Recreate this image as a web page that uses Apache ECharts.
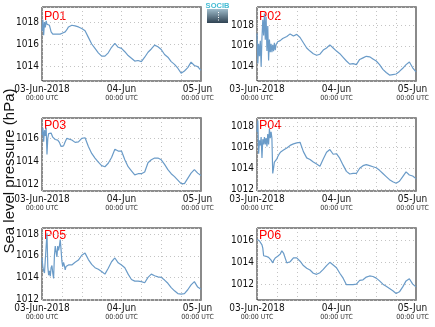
<!DOCTYPE html>
<html><head><meta charset="utf-8">
<script src="https://cdn.jsdelivr.net/npm/echarts@6/dist/echarts.min.js"></script>
<style>html,body{margin:0;padding:0;background:#fff}#c{width:435px;height:327px}</style>
</head><body><div id="c"></div>
<script>
// hours since 03-Jun-2018 00:00 UTC
const hours = [0,0.25,0.5,0.75,1,1.25,1.5,1.75,2,2.25,2.5,2.75,3,3.25,3.5,3.75,4,4.25,4.5,4.75,5,5.25,5.5,5.75,6,6.25,6.5,6.75,7,7.25,7.5,7.75,8,
  9,10,11,12,13,14,15,16,17,18,19,20,21,22,23,24,25,26,27,28,29,30,31,32,33,34,35,36,37,38,39,40,41,42,43,44,45,46,47,48];

const stations = ['P01','P02','P03','P04','P05','P06'];

const p01 = [1017.2,1018.2,1016.8,1018.0,1017.5,1018.1,1017.8,1017.9,1017.8,1017.7,1017.4,1017.1,1016.95,1016.9,1016.95,1017.0,1016.9,1016.85,1016.95,1016.9,1016.95,1017.0,1016.9,1016.95,1016.95,1017.0,1017.0,1017.05,1017.1,1017.15,1017.3,1017.45,1017.55,
  1017.7,1017.65,1017.55,1017.4,1017.2,1016.6,1016.0,1015.6,1015.2,1014.9,1014.9,1015.2,1015.7,1016.05,1015.7,1015.6,1015.3,1014.95,1014.7,1014.45,1014.5,1014.4,1014.8,1015.25,1015.55,1015.9,1015.75,1015.5,1015.05,1014.8,1014.4,1014.15,1013.8,1013.35,1013.55,1013.85,1014.35,1014.05,1013.95,1013.6];
const p02 = [1017.2,1014.3,1016.2,1015.0,1016.5,1014.0,1016.8,1018.5,1017.0,1019.1,1016.6,1018.8,1015.5,1017.9,1014.6,1016.6,1015.4,1016.2,1015.4,1016.1,1015.5,1016.3,1015.6,1016.1,1016.2,1016.4,1016.4,1016.5,1016.5,1016.6,1016.6,1016.7,1016.8,
  1016.9,1017.15,1016.95,1017.1,1016.8,1016.3,1015.8,1015.5,1015.25,1015.1,1015.2,1015.6,1015.8,1016.1,1015.8,1015.5,1015.25,1014.9,1014.55,1014.25,1014.3,1014.2,1014.7,1014.85,1015.0,1014.95,1014.75,1014.55,1014.2,1013.75,1013.45,1013.2,1013.25,1013.3,1013.55,1013.85,1014.2,1014.45,1013.9,1013.5];
const p03 = [1016.3,1016.9,1015.7,1016.7,1016.2,1016.9,1014.6,1016.0,1016.4,1016.5,1016.55,1016.45,1016.3,1016.1,1016.0,1015.95,1015.9,1015.9,1015.85,1015.85,1015.8,1015.65,1015.5,1015.3,1015.2,1015.25,1015.35,1015.5,1015.7,1015.85,1016.0,1016.05,1016.05,
  1015.85,1015.65,1015.7,1016.0,1016.05,1015.3,1014.7,1014.3,1013.95,1013.65,1013.55,1013.85,1014.35,1015.05,1014.9,1014.9,1014.15,1013.55,1013.2,1012.85,1012.95,1012.95,1013.1,1013.9,1014.15,1014.3,1014.3,1014.15,1013.75,1013.3,1012.95,1012.7,1012.4,1012.1,1012.1,1012.55,1013.0,1013.3,1013.0,1012.8];
const p04 = [1017.5,1018.6,1015.4,1016.7,1016.2,1017.0,1015.0,1016.8,1016.3,1017.0,1016.3,1016.9,1016.1,1017.3,1016.3,1017.8,1016.9,1017.5,1016.9,1013.5,1014.0,1014.6,1014.7,1014.65,1014.9,1015.1,1015.25,1015.4,1015.55,1015.6,1015.6,1015.7,1015.75,
  1015.95,1016.2,1016.35,1016.45,1016.5,1015.6,1015.0,1014.85,1014.6,1014.4,1014.2,1014.9,1015.55,1015.8,1015.35,1015.4,1014.95,1014.3,1013.7,1013.45,1013.5,1013.5,1014.0,1014.25,1014.35,1014.25,1014.15,1014.05,1013.8,1013.5,1013.2,1012.9,1012.7,1012.55,1012.75,1013.2,1013.65,1013.35,1013.25,1013.0];
const p05 = [1015.8,1015.0,1014.6,1014.4,1014.3,1014.5,1018.1,1015.0,1014.2,1014.6,1014.1,1014.9,1015.1,1014.4,1013.9,1016.0,1016.9,1017.0,1015.9,1016.9,1016.5,1016.9,1017.5,1016.6,1015.5,1015.0,1015.4,1015.1,1014.7,1015.0,1014.95,1015.1,1015.15,
  1015.15,1015.4,1015.6,1016.05,1016.25,1015.65,1015.2,1014.9,1014.75,1014.55,1014.3,1014.85,1015.45,1015.8,1015.35,1015.15,1014.9,1014.3,1013.8,1013.65,1013.65,1013.6,1013.5,1014.0,1014.3,1014.15,1014.05,1014.0,1013.75,1013.45,1013.05,1012.75,1012.5,1012.45,1012.5,1012.85,1013.3,1013.6,1013.1,1012.9];
const p06 = [1016.1,1016.0,1016.05,1015.95,1016.0,1015.9,1015.6,1015.3,1014.6,1014.75,1014.6,1014.55,1014.5,1014.5,1014.45,1014.4,1014.3,1014.2,1014.1,1013.95,1014.15,1014.3,1014.4,1014.45,1014.5,1014.55,1014.6,1014.65,1014.75,1014.9,1015.05,1014.95,1014.85,
  1013.95,1014.05,1014.4,1014.4,1014.1,1013.7,1013.45,1013.3,1013.0,1012.9,1013.05,1013.35,1013.7,1014.0,1013.75,1013.5,1013.0,1012.55,1011.95,1011.95,1011.95,1012.0,1012.35,1012.4,1012.65,1012.75,1012.7,1012.55,1012.3,1012.0,1011.8,1011.6,1011.4,1011.15,1011.3,1011.75,1012.3,1012.5,1012.0,1011.75];

const seriesValues = [p01, p02, p03, p04, p05, p06];
const yMin = [1012.64, 1012.63, 1011.46, 1011.81, 1011.9, 1010.55];
const yMax = [1019.36, 1019.73, 1017.75, 1018.84, 1018.58, 1017.14];
const xTickHours = [0, 24, 48];
const xTickDates = ['03-Jun-2018', '04-Jun', '05-Jun'];
const xTickTimes = ['00:00 UTC', '00:00 UTC', '00:00 UTC'];
const yTitle = 'Sea level pressure (hPa)';

const FONT = '"Liberation Sans", Arial, sans-serif';
const TICKFONT = '"Liberation Sans Narrow", "DejaVu Sans Condensed", "Arial Narrow", "Liberation Sans", sans-serif';
const gridBoxes = [
  {left:42, top:7, width:159, height:74},
  {left:257, top:7, width:159, height:74},
  {left:42, top:118, width:159, height:73},
  {left:257, top:118, width:159, height:73},
  {left:42, top:228, width:159, height:72},
  {left:257, top:228, width:159, height:72}
];
const labelCapTop = [11.7, 11.7, 121, 121, 230.7, 230.7];

const chart = echarts.init(document.getElementById('c'), null, {renderer: 'canvas'});
const grid = [], xAxis = [], yAxis = [], series = [], graphic = [];

gridBoxes.forEach((g, i) => {
  grid.push(Object.assign({show: true, borderColor: '#1a1a1a', borderWidth: 1, backgroundColor: 'transparent', containLabel: false, outerBoundsMode: 'none'}, g));
  xAxis.push({
    type: 'value', gridIndex: i, min: 0, max: 48, interval: 6,
    axisLine: {show: false}, axisTick: {show: false},
    splitLine: {show: true, lineStyle: {color: '#c4c4c4', type: [1, 3], width: 1}},
    axisLabel: {
      show: true, interval: 0, margin: 3, showMinLabel: true, showMaxLabel: true,
      alignMinLabel: 'center', alignMaxLabel: 'center', hideOverlap: false,
      fontFamily: TICKFONT,
      formatter: v => {
        const k = xTickHours.indexOf(v);
        if (k < 0) return '';
        const s = v === 48 ? '2' : '';
        return '{a' + s + '|' + xTickDates[k] + '}\n{b' + s + '|' + xTickTimes[k] + '}';
      },
      rich: {
        a: {fontSize: 10, lineHeight: 10, color: '#111', fontFamily: TICKFONT},
        b: {fontSize: 7, lineHeight: 9, color: '#333', fontFamily: TICKFONT},
        a2: {fontSize: 10, lineHeight: 10, color: '#111', fontFamily: TICKFONT, padding: [0, 7, 0, 0]},
        b2: {fontSize: 7, lineHeight: 9, color: '#333', fontFamily: TICKFONT, padding: [0, 7, 0, 0]}
      }
    }
  });
  yAxis.push({
    type: 'value', gridIndex: i, min: yMin[i], max: yMax[i], splitNumber: 3,
    axisLine: {show: false}, axisTick: {show: false},
    splitLine: {show: true, lineStyle: {color: '#c4c4c4', type: [1, 3], width: 1}},
    axisLabel: {
      margin: 3, fontSize: 10, color: '#111', fontFamily: TICKFONT,
      formatter: v => {
        const r = Math.round(v);
        return (Math.abs(v - r) < 1e-6 && r % 2 === 0) ? String(r) : '';
      }
    }
  });
  yAxis.push({
    type: 'value', gridIndex: i, position: 'right', min: yMin[i], max: yMax[i],
    axisLine: {show: true, lineStyle: {color: '#8a8a8a', width: 2}},
    axisTick: {show: false}, axisLabel: {show: false}, splitLine: {show: false}
  });
  series.push({
    type: 'line', xAxisIndex: i, yAxisIndex: 2 * i,
    data: seriesValues[i].map((v, j) => [hours[j], v]),
    showSymbol: false, symbol: 'none',
    lineStyle: {color: '#6a9bc8', width: 1.2},
    animation: false
  });
  graphic.push({
    type: 'text', left: g.left + 2, top: labelCapTop[i] - 1.8,
    style: {text: stations[i], fill: '#ff0000', fontSize: 12.5, fontFamily: FONT}
  });
});

graphic.push({
  type: 'text', x: 10, y: 171, rotation: Math.PI / 2,
  style: {text: yTitle, fill: '#111', fontSize: 15, fontFamily: FONT, textAlign: 'center', textVerticalAlign: 'middle'}
});
// logo
graphic.push({
  type: 'rect', shape: {x: 207, y: 9, width: 21, height: 14},
  style: {fill: new echarts.graphic.LinearGradient(0, 0, 0, 1, [{offset: 0, color: '#9fbccb'}, {offset: 1, color: '#2f4252'}])}
});
graphic.push({
  type: 'line', shape: {x1: 218.5, y1: 12, x2: 218.5, y2: 22},
  style: {stroke: '#ffffff', lineWidth: 1, lineDash: [1, 1.5]}
});
graphic.push({
  type: 'text', x: 217.5, y: 2,
  style: {text: 'SOCIB', fill: '#45bcd4', fontSize: 7.5, fontWeight: 'bold', fontFamily: FONT, textAlign: 'center'}
});

chart.setOption({animation: false, grid, xAxis, yAxis, series, graphic});
</script>
</body></html>
